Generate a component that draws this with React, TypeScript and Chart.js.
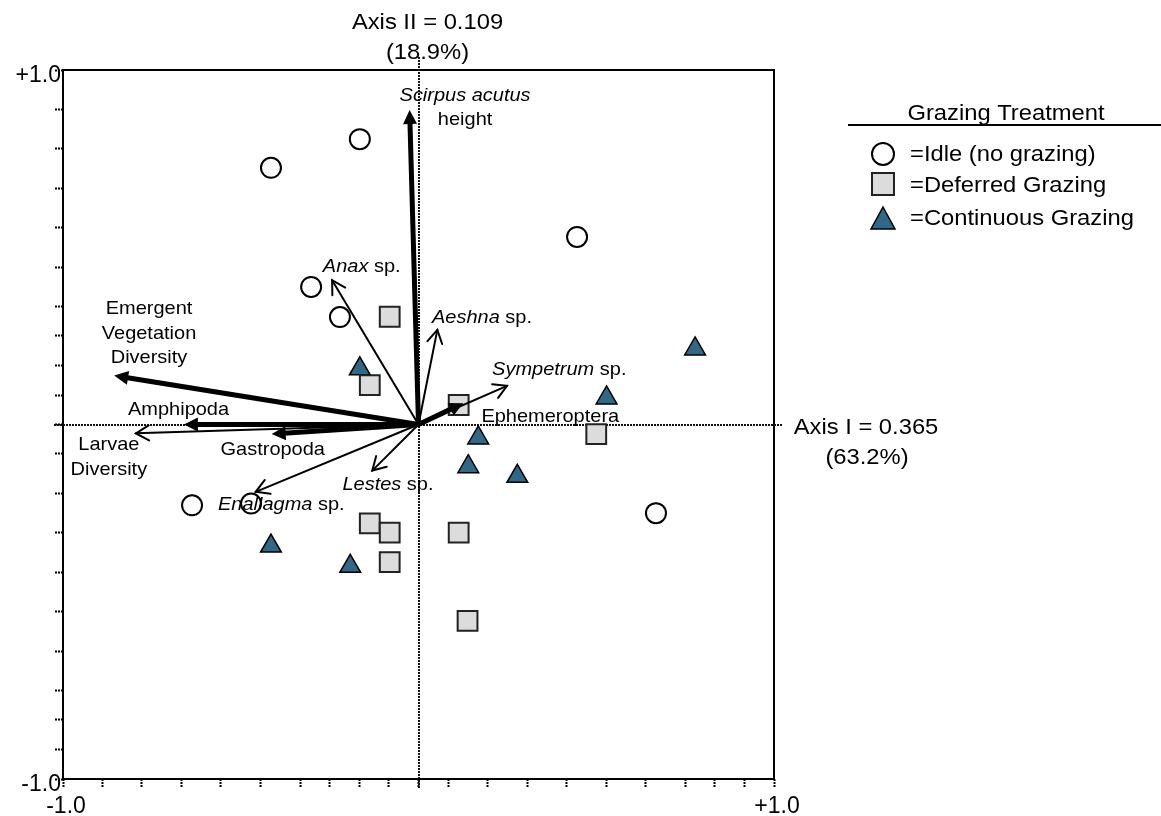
import React, { useEffect, useRef } from 'react';
import { Chart, registerables } from 'chart.js';

Chart.register(...registerables);

// ---------------- data ----------------
const idleX = [-0.165, -0.415, 0.446, -0.302, -0.221, -0.637, -0.471, 0.668];
const idleY = [0.805, 0.724, 0.529, 0.388, 0.303, -0.228, -0.223, -0.25];

const deferredX = [-0.081, -0.137, 0.113, -0.137, -0.081, 0.113, -0.081, 0.5, 0.138];
const deferredY = [0.304, 0.111, 0.055, -0.279, -0.305, -0.305, -0.388, -0.027, -0.554];

const continuousX = [-0.165, 0.168, 0.14, 0.278, -0.415, -0.192, 0.778, 0.529];
const continuousY = [0.157, -0.038, -0.119, -0.146, -0.343, -0.4, 0.213, 0.075];

const arrowNames = [
  'Scirpus acutus height', 'Anax sp.', 'Aeshna sp.', 'Sympetrum sp.', 'Ephemeroptera',
  'Emergent Vegetation Diversity', 'Amphipoda', 'Larvae Diversity', 'Gastropoda',
  'Enallagma sp.', 'Lestes sp.',
];
const arrowX = [-0.025, -0.243, 0.053, 0.249, 0.126, -0.856, -0.66, -0.795, -0.413, -0.458, -0.13];
const arrowY = [0.887, 0.407, 0.267, 0.109, 0.06, 0.138, 0.0, -0.025, -0.027, -0.19, -0.13];
const arrowBold = [true, false, false, false, true, true, true, false, true, false, false];

// label text (\n = new line, *...* = italic)
const arrowLabels = [
  '*Scirpus acutus*\nheight',
  '*Anax* sp.',
  '*Aeshna* sp.',
  '*Sympetrum* sp.',
  'Ephemeroptera',
  'Emergent\nVegetation\nDiversity',
  'Amphipoda',
  'Larvae\nDiversity',
  'Gastropoda',
  '*Enallagma* sp.',
  '*Lestes* sp.',
];
// label anchors (data units, first line centre) and alignment
const labelX = [0.131, -0.269, 0.038, 0.207, 0.177, -0.758, -0.675, -0.871, -0.41, -0.564, -0.214];
const labelY = [0.927, 0.444, 0.3, 0.154, 0.021, 0.326, 0.041, -0.058, -0.072, -0.227, -0.171];
const labelAlign = ['center', 'left', 'left', 'left', 'left', 'center', 'center', 'center', 'center', 'left', 'left'];

const xTickValues = [-1, -0.889, -0.778, -0.667, -0.556, -0.444, -0.333, -0.25, -0.167, -0.083, 0,
  0.083, 0.194, 0.306, 0.417, 0.528, 0.639, 0.75, 0.833, 0.917, 1];
const yTickValues = [1, 0.889, 0.778, 0.667, 0.556, 0.444, 0.333, 0.25, 0.167, 0.083, 0,
  -0.083, -0.194, -0.306, -0.417, -0.528, -0.639, -0.75, -0.833, -0.917, -1];

const seriesNames = ['=Idle (no grazing)', '=Deferred Grazing', '=Continuous Grazing'];
const legendTitle = 'Grazing Treatment';
const axis1Title = ['Axis I = 0.365', '(63.2%)'];
const axis2Title = ['Axis II = 0.109', '(18.9%)'];

// ---------------- styles ----------------
const FONT = '"Liberation Sans", Arial, Helvetica, sans-serif';
const SX = 1.08;
const TRI_COLOR = '#306987';
const SQ_COLOR = '#dcdcdc';

function parseParts(line: string) {
  const parts: { t: string; it: boolean }[] = [];
  const segs = line.split('*');
  segs.forEach((s, i) => { if (s.length) parts.push({ t: s, it: i % 2 === 1 }); });
  return parts;
}

function drawRich(ctx: CanvasRenderingContext2D, line: string, x: number, y: number, align: string, size: number) {
  const parts = parseParts(line);
  const widths = parts.map((p) => {
    ctx.font = `${p.it ? 'italic ' : ''}${size}px ${FONT}`;
    return ctx.measureText(p.t).width * SX;
  });
  const total = widths.reduce((a, b) => a + b, 0);
  let cx = align === 'center' ? x - total / 2 : x;
  ctx.textAlign = 'left';
  ctx.textBaseline = 'middle';
  ctx.fillStyle = '#000';
  parts.forEach((p, i) => {
    ctx.save();
    ctx.font = `${p.it ? 'italic ' : ''}${size}px ${FONT}`;
    ctx.translate(cx, y);
    ctx.scale(SX, 1);
    ctx.fillText(p.t, 0, 0);
    ctx.restore();
    cx += widths[i];
  });
}

function drawArrow(ctx: CanvasRenderingContext2D, x0: number, y0: number, x1: number, y1: number, bold: boolean) {
  const ang = Math.atan2(y1 - y0, x1 - x0);
  const c = Math.cos(ang), s = Math.sin(ang);
  ctx.strokeStyle = '#000';
  ctx.fillStyle = '#000';
  ctx.setLineDash([]);
  if (bold) {
    const hl = 14, hw = 7;
    const bx = x1 - hl * c, by = y1 - hl * s;
    ctx.lineWidth = 5;
    ctx.lineCap = 'butt';
    ctx.beginPath();
    ctx.moveTo(x0, y0);
    ctx.lineTo(bx + 2 * c, by + 2 * s);
    ctx.stroke();
    ctx.beginPath();
    ctx.moveTo(x1, y1);
    ctx.lineTo(bx - hw * s, by + hw * c);
    ctx.lineTo(bx + hw * s, by - hw * c);
    ctx.closePath();
    ctx.fill();
  } else {
    ctx.lineWidth = 2;
    ctx.lineCap = 'round';
    ctx.beginPath();
    ctx.moveTo(x0, y0);
    ctx.lineTo(x1, y1);
    ctx.stroke();
    const al = 15, aa = Math.PI / 6;
    ctx.beginPath();
    ctx.moveTo(x1 - al * Math.cos(ang - aa), y1 - al * Math.sin(ang - aa));
    ctx.lineTo(x1, y1);
    ctx.lineTo(x1 - al * Math.cos(ang + aa), y1 - al * Math.sin(ang + aa));
    ctx.stroke();
  }
}

const overlayPlugin = {
  id: 'ordinationOverlay',
  beforeDatasetsDraw(chart: any) {
    const { ctx, chartArea, scales } = chart;
    const xs = scales.x, ys = scales.y;
    const x0 = Math.round(xs.getPixelForValue(0)), y0 = Math.round(ys.getPixelForValue(0));
    const L = Math.round(chartArea.left), T = Math.round(chartArea.top);
    const R = Math.round(chartArea.right), B = Math.round(chartArea.bottom);
    ctx.save();
    // frame
    ctx.strokeStyle = '#000';
    ctx.lineWidth = 2;
    ctx.setLineDash([]);
    ctx.strokeRect(L, T, R - L, B - T);
    // dotted zero lines
    ctx.setLineDash([2, 1]);
    ctx.lineWidth = 2;
    ctx.strokeStyle = '#111';
    ctx.beginPath();
    ctx.moveTo(x0, T - 13);
    ctx.lineTo(x0, B + 9);
    ctx.moveTo(L - 9, y0);
    ctx.lineTo(R + 9, y0);
    ctx.stroke();
    ctx.restore();
  },
  afterDatasetsDraw(chart: any) {
    const { ctx, scales } = chart;
    const xs = scales.x, ys = scales.y;
    const ox = xs.getPixelForValue(0), oy = ys.getPixelForValue(0);
    ctx.save();
    arrowNames.forEach((_, i) => {
      drawArrow(ctx, ox, oy, xs.getPixelForValue(arrowX[i]), ys.getPixelForValue(arrowY[i]), arrowBold[i]);
    });
    arrowLabels.forEach((lab, i) => {
      const lx = xs.getPixelForValue(labelX[i]);
      const ly = ys.getPixelForValue(labelY[i]);
      lab.split('\n').forEach((line, k) => {
        drawRich(ctx, line, lx, ly + k * 24.5, labelAlign[i], 18.5);
      });
    });
    ctx.restore();
  },
  afterDraw(chart: any) {
    const { ctx, scales } = chart;
    const xs = scales.x, ys = scales.y;
    ctx.save();
    // axis titles
    const x0 = xs.getPixelForValue(0);
    drawRich(ctx, axis2Title[0], x0 + 9, 23, 'center', 22);
    drawRich(ctx, axis2Title[1], x0 + 9, 53, 'center', 22);
    const y0 = ys.getPixelForValue(0);
    drawRich(ctx, axis1Title[0], 866, y0 + 3, 'center', 22);
    drawRich(ctx, axis1Title[1], 867, y0 + 33, 'center', 22);

    // legend
    drawRich(ctx, legendTitle, 1006, 114, 'center', 22);
    ctx.strokeStyle = '#000';
    ctx.lineWidth = 2;
    ctx.setLineDash([]);
    ctx.beginPath();
    ctx.moveTo(848, 125);
    ctx.lineTo(1161, 125);
    ctx.stroke();

    const mx = 883;
    // circle
    ctx.beginPath();
    ctx.arc(mx, 154, 11, 0, Math.PI * 2);
    ctx.fillStyle = '#fff';
    ctx.fill();
    ctx.lineWidth = 2;
    ctx.strokeStyle = '#000';
    ctx.stroke();
    // square
    ctx.fillStyle = SQ_COLOR;
    ctx.fillRect(mx - 11, 184 - 11, 22, 22);
    ctx.strokeStyle = '#222';
    ctx.strokeRect(mx - 11, 184 - 11, 22, 22);
    // triangle
    ctx.beginPath();
    ctx.moveTo(mx, 207);
    ctx.lineTo(mx + 12, 229);
    ctx.lineTo(mx - 12, 229);
    ctx.closePath();
    ctx.fillStyle = TRI_COLOR;
    ctx.fill();
    ctx.lineWidth = 1.5;
    ctx.strokeStyle = '#000';
    ctx.stroke();

    drawRich(ctx, seriesNames[0], 910, 155, 'left', 22);
    drawRich(ctx, seriesNames[1], 910, 186, 'left', 22);
    drawRich(ctx, seriesNames[2], 910, 219, 'left', 22);
    ctx.restore();
  },
};

const tickLabel = (v: any) => {
  const n = Number(v);
  if (Math.abs(n - 1) < 1e-6) return '+1.0';
  if (Math.abs(n + 1) < 1e-6) return '-1.0';
  return '';
};

const tickGrid = {
  drawOnChartArea: false,
  drawTicks: true,
  tickLength: 8,
  tickColor: '#000',
  tickWidth: 2,
  tickBorderDash: [2, 1],
};

export default function App() {
  const ref = useRef<HTMLCanvasElement | null>(null);
  useEffect(() => {
    if (!ref.current) return;
    Chart.defaults.font.family = FONT;
    const chart = new Chart(ref.current, {
      type: 'scatter',
      data: {
        datasets: [
          {
            label: seriesNames[0],
            data: idleX.map((x, i) => ({ x, y: idleY[i] })),
            pointStyle: 'circle',
            pointRadius: 10,
            backgroundColor: '#ffffff',
            borderColor: '#000000',
            borderWidth: 2,
          },
          {
            label: seriesNames[1],
            data: deferredX.map((x, i) => ({ x, y: deferredY[i] })),
            pointStyle: 'rect',
            pointRadius: 14,
            backgroundColor: SQ_COLOR,
            borderColor: '#222222',
            borderWidth: 2,
          },
          {
            label: seriesNames[2],
            data: continuousX.map((x, i) => ({ x, y: continuousY[i] })),
            pointStyle: 'triangle',
            pointRadius: 12,
            backgroundColor: TRI_COLOR,
            borderColor: '#000000',
            borderWidth: 1.5,
          },
        ],
      } as any,
      options: {
        responsive: false,
        animation: false,
        events: [],
        layout: { padding: { top: 70, right: 387, left: 0, bottom: 0 } },
        plugins: { legend: { display: false }, tooltip: { enabled: false }, title: { display: false } },
        scales: {
          x: {
            type: 'linear',
            min: -1,
            max: 1,
            afterBuildTicks: (axis: any) => { axis.ticks = xTickValues.map((v) => ({ value: v })); },
            afterFit: (axis: any) => { axis.height = 37; },
            border: { display: false },
            grid: tickGrid,
            ticks: {
              autoSkip: false,
              maxRotation: 0,
              padding: 6,
              labelOffset: 3,
              color: '#000',
              font: { family: FONT, size: 23 },
              callback: tickLabel,
            },
          },
          y: {
            type: 'linear',
            min: -1,
            max: 1,
            afterBuildTicks: (axis: any) => { axis.ticks = yTickValues.map((v) => ({ value: v })); },
            afterFit: (axis: any) => { axis.width = 63; },
            border: { display: false },
            grid: tickGrid,
            ticks: {
              autoSkip: false,
              padding: -6,
              labelOffset: 6,
              color: '#000',
              font: { family: FONT, size: 23 },
              callback: tickLabel,
            },
          },
        },
      } as any,
      plugins: [overlayPlugin],
    });
    return () => chart.destroy();
  }, []);

  return (
    <div style={{ position: 'fixed', left: 0, top: 0, width: 1161, height: 816, background: '#fff' }}>
      <canvas ref={ref} width={1161} height={816} style={{ display: 'block', width: 1161, height: 816 }} />
    </div>
  );
}
